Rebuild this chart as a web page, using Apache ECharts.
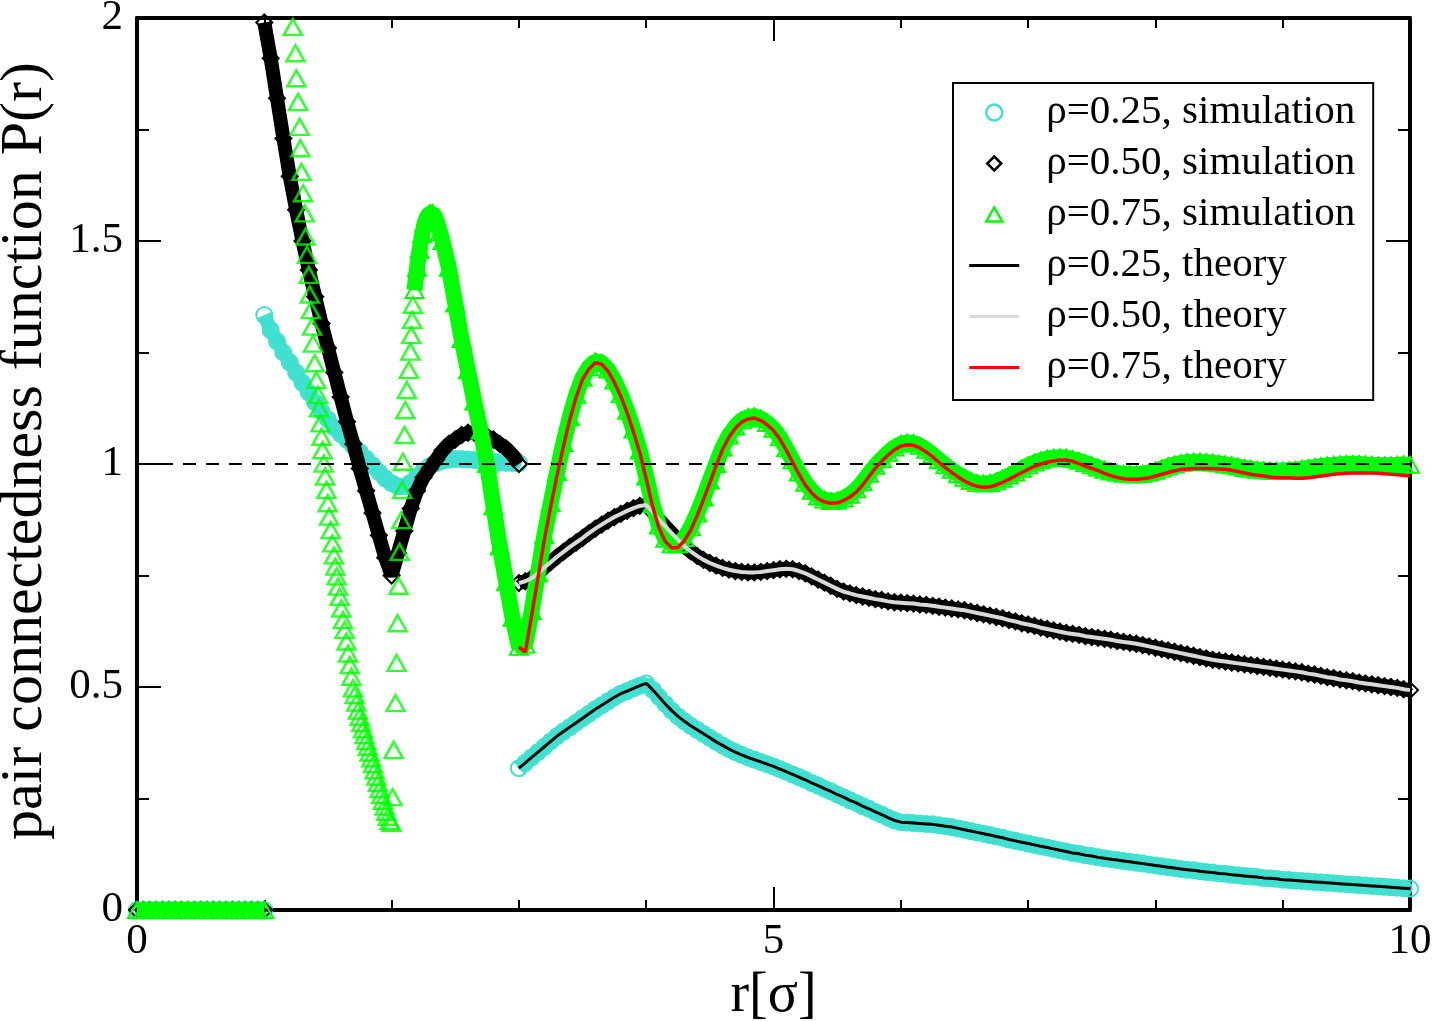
<!DOCTYPE html>
<html lang="en">
<head>
<meta charset="UTF-8">
<title>pair connectedness function</title>
<script src="https://cdn.jsdelivr.net/npm/echarts@6.0.0/dist/echarts.min.js"></script>
<style>
  html, body { margin: 0; padding: 0; background: #fff; }
  #main { width: 1438px; height: 1021px; }
</style>
</head>
<body>
<div id="main"></div>
<script>
// r in the core (r < 1): P(r) = 0 for all densities
var rCore = [0, 0.05, 0.1, 0.15, 0.2, 0.25, 0.3, 0.35, 0.4, 0.45, 0.5, 0.55, 0.6, 0.65, 0.7, 0.75, 0.8, 0.85, 0.9, 0.95, 1];
var pCore = [0, 0, 0, 0, 0, 0, 0, 0, 0, 0, 0, 0, 0, 0, 0, 0, 0, 0, 0, 0, 0];

// first shell 1 <= r <= 3
var rShell = [1, 1.05, 1.1, 1.15, 1.2, 1.25, 1.3, 1.35, 1.4, 1.45, 1.5, 1.55, 1.6, 1.65, 1.7, 1.75, 1.8, 1.85, 1.9, 1.95,
              2, 2.05, 2.1, 2.15, 2.2, 2.25, 2.3, 2.35, 2.4, 2.45, 2.5, 2.55, 2.6, 2.65, 2.7, 2.75, 2.8, 2.85, 2.9, 2.95, 3];
var simShell025 = [1.334, 1.3, 1.275, 1.25, 1.228, 1.205, 1.182, 1.16, 1.138, 1.118, 1.1, 1.082, 1.067, 1.054, 1.04, 1.027, 1.012, 0.997, 0.982, 0.968,
                   0.957, 0.95, 0.95, 0.958, 0.972, 0.985, 0.995, 1.002, 1.007, 1.01, 1.011, 1.011, 1.01, 1.009, 1.008, 1.006, 1.005, 1.004, 1.003, 1.002, 1.002];
var simShell050 = [1.99, 1.91, 1.82, 1.73, 1.645, 1.57, 1.5, 1.435, 1.375, 1.315, 1.26, 1.205, 1.15, 1.095, 1.045, 0.99, 0.94, 0.89, 0.84, 0.79,
                   0.75, 0.8, 0.85, 0.9, 0.94, 0.97, 0.99, 1.01, 1.03, 1.045, 1.055, 1.065, 1.07, 1.07, 1.068, 1.062, 1.055, 1.045, 1.035, 1.02, 1.0];

// rho = 0.75 simulation, steep drop before 2 sigma (single triangles)
var dropR075 = [1.224, 1.245, 1.252, 1.265, 1.278, 1.284, 1.292, 1.305, 1.318, 1.325, 1.336, 1.349, 1.357, 1.366, 1.375, 1.383, 1.396, 1.409, 1.422, 1.43,
                1.441, 1.449, 1.457, 1.467, 1.478, 1.488, 1.498, 1.509, 1.522, 1.535, 1.547, 1.558, 1.568, 1.579, 1.592, 1.605, 1.618, 1.631, 1.645, 1.658,
                1.671, 1.684, 1.697, 1.71, 1.723, 1.736, 1.749, 1.762, 1.775, 1.788, 1.801, 1.814, 1.827, 1.841, 1.854, 1.867, 1.88, 1.893, 1.906, 1.919,
                1.932, 1.945, 1.958, 1.971, 1.985, 1.998];
var dropP075 = [1.98, 1.921, 1.865, 1.812, 1.756, 1.708, 1.655, 1.607, 1.562, 1.51, 1.469, 1.424, 1.38, 1.345, 1.308, 1.27, 1.226, 1.188, 1.155, 1.125,
                1.091, 1.061, 1.031, 1.001, 0.972, 0.942, 0.912, 0.882, 0.852, 0.822, 0.795, 0.77, 0.748, 0.725, 0.702, 0.676, 0.65, 0.628, 0.602, 0.575,
                0.549, 0.523, 0.497, 0.482, 0.465, 0.447, 0.433, 0.419, 0.405, 0.392, 0.379, 0.366, 0.353, 0.34, 0.327, 0.313, 0.299, 0.285, 0.271, 0.258,
                0.245, 0.232, 0.22, 0.209, 0.2, 0.195];
// jump just after 2 sigma
var jumpR075 = [2.008, 2.016, 2.031, 2.039, 2.047, 2.055, 2.063, 2.076, 2.084, 2.089, 2.102, 2.108, 2.12, 2.136, 2.147, 2.154, 2.162, 2.167];
var jumpP075 = [0.253, 0.359, 0.464, 0.554, 0.643, 0.727, 0.803, 0.874, 0.942, 1.005, 1.065, 1.121, 1.166, 1.211, 1.252, 1.289, 1.323, 1.357];
// peak around 2.3 sigma
var peakR075 = [2.18, 2.2, 2.22, 2.24, 2.26, 2.28, 2.3, 2.32, 2.34, 2.36, 2.38, 2.4, 2.45, 2.5, 2.55, 2.6, 2.65, 2.7, 2.75, 2.8, 2.85, 2.9, 2.95];
var peakP075 = [1.39, 1.44, 1.48, 1.515, 1.54, 1.555, 1.562, 1.563, 1.555, 1.54, 1.52, 1.5, 1.44, 1.36, 1.28, 1.21, 1.14, 1.075, 1.0, 0.905, 0.815, 0.735, 0.655];

// r >= 3
var rOuter = [3, 3.05, 3.1, 3.15, 3.2, 3.25, 3.3, 3.35, 3.4, 3.45, 3.5, 3.55, 3.6, 3.65, 3.7, 3.75, 3.8, 3.85, 3.9, 3.95,
              4, 4.05, 4.1, 4.15, 4.2, 4.25, 4.3, 4.35, 4.4, 4.45, 4.5, 4.55, 4.6, 4.65, 4.7, 4.75, 4.8, 4.85, 4.9, 4.95,
              5, 5.05, 5.1, 5.15, 5.2, 5.25, 5.3, 5.35, 5.4, 5.45, 5.5, 5.55, 5.6, 5.65, 5.7, 5.75, 5.8, 5.85, 5.9, 5.95,
              6, 6.05, 6.1, 6.15, 6.2, 6.25, 6.3, 6.35, 6.4, 6.45, 6.5, 6.55, 6.6, 6.65, 6.7, 6.75, 6.8, 6.85, 6.9, 6.95,
              7, 7.05, 7.1, 7.15, 7.2, 7.25, 7.3, 7.35, 7.4, 7.45, 7.5, 7.55, 7.6, 7.65, 7.7, 7.75, 7.8, 7.85, 7.9, 7.95,
              8, 8.05, 8.1, 8.15, 8.2, 8.25, 8.3, 8.35, 8.4, 8.45, 8.5, 8.55, 8.6, 8.65, 8.7, 8.75, 8.8, 8.85, 8.9, 8.95,
              9, 9.05, 9.1, 9.15, 9.2, 9.25, 9.3, 9.35, 9.4, 9.45, 9.5, 9.55, 9.6, 9.65, 9.7, 9.75, 9.8, 9.85, 9.9, 9.95, 10];
var theory025 = [0.318, 0.33, 0.342, 0.354, 0.366, 0.378, 0.39, 0.4, 0.41, 0.42, 0.43, 0.44, 0.45, 0.459, 0.468, 0.477, 0.485, 0.491, 0.497, 0.503,
                 0.508, 0.494, 0.478, 0.462, 0.447, 0.434, 0.423, 0.413, 0.404, 0.395, 0.386, 0.377, 0.369, 0.361, 0.354, 0.348, 0.342, 0.337, 0.332, 0.327,
                 0.322, 0.316, 0.31, 0.304, 0.298, 0.292, 0.285, 0.279, 0.272, 0.266, 0.259, 0.253, 0.246, 0.24, 0.233, 0.227, 0.22, 0.214, 0.207, 0.201,
                 0.197, 0.196, 0.195, 0.194, 0.193, 0.192, 0.19, 0.188, 0.186, 0.183, 0.18, 0.177, 0.174, 0.171, 0.168, 0.165, 0.162, 0.158, 0.155, 0.152,
                 0.149, 0.146, 0.143, 0.14, 0.137, 0.134, 0.131, 0.128, 0.126, 0.123, 0.121, 0.118, 0.116, 0.114, 0.112, 0.11, 0.108, 0.106, 0.104, 0.102,
                 0.1, 0.098, 0.096, 0.094, 0.092, 0.09, 0.089, 0.087, 0.085, 0.084, 0.082, 0.081, 0.079, 0.078, 0.076, 0.075, 0.074, 0.072, 0.071, 0.07,
                 0.068, 0.067, 0.066, 0.065, 0.064, 0.063, 0.062, 0.061, 0.06, 0.059, 0.058, 0.057, 0.056, 0.055, 0.054, 0.053, 0.052, 0.051, 0.05, 0.049, 0.048];
var theory050 = [0.733, 0.737, 0.744, 0.755, 0.768, 0.78, 0.792, 0.803, 0.814, 0.824, 0.834, 0.845, 0.855, 0.864, 0.873, 0.881, 0.888, 0.895, 0.901, 0.906,
                 0.908, 0.893, 0.875, 0.86, 0.845, 0.83, 0.816, 0.804, 0.794, 0.785, 0.778, 0.772, 0.767, 0.763, 0.76, 0.758, 0.757, 0.757, 0.758, 0.76,
                 0.762, 0.764, 0.765, 0.764, 0.76, 0.755, 0.748, 0.741, 0.734, 0.727, 0.72, 0.714, 0.71, 0.706, 0.703, 0.7, 0.697, 0.695, 0.692, 0.69,
                 0.689, 0.688, 0.687, 0.685, 0.684, 0.682, 0.68, 0.678, 0.676, 0.674, 0.672, 0.669, 0.666, 0.663, 0.66, 0.657, 0.654, 0.65, 0.647, 0.643,
                 0.64, 0.637, 0.633, 0.63, 0.627, 0.624, 0.621, 0.619, 0.617, 0.614, 0.612, 0.61, 0.608, 0.606, 0.603, 0.601, 0.599, 0.597, 0.594, 0.591,
                 0.588, 0.585, 0.582, 0.579, 0.576, 0.573, 0.57, 0.567, 0.564, 0.561, 0.559, 0.557, 0.555, 0.553, 0.551, 0.549, 0.547, 0.545, 0.543, 0.541,
                 0.539, 0.537, 0.535, 0.533, 0.53, 0.528, 0.525, 0.522, 0.52, 0.517, 0.515, 0.513, 0.51, 0.508, 0.506, 0.504, 0.502, 0.5, 0.498, 0.495, 0.493];
var theory075 = [0.59, 0.578, 0.66, 0.745, 0.83, 0.905, 0.975, 1.04, 1.1, 1.15, 1.19, 1.213, 1.227, 1.224, 1.208, 1.183, 1.152, 1.115, 1.072, 1.025,
                 0.967, 0.905, 0.857, 0.826, 0.812, 0.813, 0.828, 0.852, 0.884, 0.92, 0.958, 0.997, 1.033, 1.06, 1.08, 1.094, 1.101, 1.103, 1.098, 1.088,
                 1.075, 1.056, 1.031, 1.004, 0.977, 0.953, 0.935, 0.922, 0.915, 0.912, 0.913, 0.918, 0.926, 0.937, 0.953, 0.972, 0.99, 1.006, 1.02, 1.032,
                 1.04, 1.043, 1.042, 1.036, 1.027, 1.016, 1.004, 0.992, 0.981, 0.971, 0.962, 0.955, 0.95, 0.948, 0.949, 0.953, 0.959, 0.966, 0.973, 0.981,
                 0.988, 0.995, 1.0, 1.004, 1.007, 1.009, 1.009, 1.006, 1.001, 0.995, 0.99, 0.985, 0.979, 0.974, 0.97, 0.967, 0.966, 0.966, 0.967, 0.969,
                 0.973, 0.977, 0.981, 0.985, 0.988, 0.989, 0.99, 0.99, 0.99, 0.99, 0.989, 0.988, 0.986, 0.983, 0.98, 0.977, 0.975, 0.973, 0.971, 0.97,
                 0.969, 0.969, 0.968, 0.968, 0.969, 0.971, 0.973, 0.975, 0.977, 0.978, 0.979, 0.98, 0.98, 0.98, 0.98, 0.979, 0.978, 0.977, 0.976, 0.975, 0.973];
var simOuter075 = [0.59, 0.595, 0.67, 0.755, 0.84, 0.912, 0.982, 1.047, 1.105, 1.155, 1.193, 1.217, 1.23, 1.227, 1.212, 1.187, 1.156, 1.119, 1.077, 1.03,
                   0.972, 0.91, 0.862, 0.832, 0.82, 0.82, 0.834, 0.858, 0.889, 0.925, 0.963, 1.0, 1.037, 1.064, 1.084, 1.098, 1.105, 1.107, 1.102, 1.092,
                   1.079, 1.06, 1.035, 1.008, 0.981, 0.958, 0.94, 0.927, 0.92, 0.917, 0.918, 0.923, 0.931, 0.943, 0.959, 0.978, 0.996, 1.011, 1.025, 1.037,
                   1.045, 1.048, 1.047, 1.041, 1.032, 1.021, 1.009, 0.997, 0.987, 0.977, 0.969, 0.962, 0.957, 0.956, 0.957, 0.961, 0.967, 0.974, 0.981, 0.989,
                   0.997, 1.003, 1.008, 1.012, 1.014, 1.015, 1.014, 1.011, 1.007, 1.002, 0.997, 0.992, 0.987, 0.983, 0.98, 0.978, 0.977, 0.977, 0.978, 0.981,
                   0.985, 0.99, 0.995, 0.999, 1.002, 1.004, 1.005, 1.005, 1.004, 1.003, 1.001, 0.999, 0.997, 0.994, 0.991, 0.989, 0.987, 0.986, 0.985, 0.985,
                   0.985, 0.986, 0.987, 0.989, 0.991, 0.993, 0.995, 0.997, 0.998, 0.999, 1.0, 1.0, 1.0, 0.999, 0.998, 0.997, 0.997, 0.997, 0.998, 0.999, 0.998];

// reference line P = 1
var refR = [0, 10];
var refP = [1, 1];

var NAME_S025 = 'ρ=0.25, simulation';
var NAME_S050 = 'ρ=0.50, simulation';
var NAME_S075 = 'ρ=0.75, simulation';
var NAME_T025 = 'ρ=0.25, theory';
var NAME_T050 = 'ρ=0.50, theory';
var NAME_T075 = 'ρ=0.75, theory';

var CYAN = '#40e0d0';
var GREEN = '#00ff00';
var GREY = '#d9d9d9';
var RED = '#ff0000';
var FONT = '"Liberation Serif", "Times New Roman", serif';
// legend icons are drawn in a 50x16 box; the tiny corner strokes pin the box so shapes are not stretched
var LINE_ICON = 'path://M0,0 L50,0 L50,3 L0,3 Z';
var DIAMOND_ICON = 'path://M0,0 L0.01,0 M50,16 L49.99,16 M25,1 L32,8 L25,15 L18,8 Z';
var TRIANGLE_ICON = 'path://M0,0 L0.01,0 M50,16 L49.99,16 M25,1 L33,15 L17,15 Z';

function pairs(xs, ys) {
    return xs.map(function (x, i) { return [x, ys[i]]; });
}

// dense simulation points drawn as a thick band with the marker on top
function simBand(name, data, color, symbol, size, width, z) {
    return {
        type: 'line', name: name, data: data, clip: false, silent: true, z: z,
        symbol: symbol, symbolSize: size, showSymbol: true,
        itemStyle: { color: 'rgba(0,0,0,0)', borderColor: color, borderWidth: 2 },
        lineStyle: { color: color, width: width },
        emphasis: { disabled: true }
    };
}

function simPoints(name, data, color, symbol, size, z) {
    return {
        type: 'scatter', name: name, data: data, clip: false, silent: true, z: z,
        symbol: symbol, symbolSize: size,
        itemStyle: { color: 'rgba(0,0,0,0)', borderColor: color, borderWidth: 2.5 },
        emphasis: { disabled: true }
    };
}

function theoryLine(name, data, color, width, z) {
    return {
        type: 'line', name: name, data: data, silent: true, z: z,
        symbol: 'none', showSymbol: false,
        itemStyle: { color: color },
        lineStyle: { color: color, width: width },
        emphasis: { disabled: true }
    };
}

function makeX(pos, withLabel) {
    return {
        type: 'value', min: 0, max: 10, interval: 5, position: pos,
        axisLine: { show: true, onZero: false, lineStyle: { color: '#000', width: 4 } },
        axisTick: { show: true, inside: true, length: 23, lineStyle: { color: '#000', width: 2 } },
        minorTick: { show: true, splitNumber: 5, length: 10, lineStyle: { color: '#000', width: 2 } },
        splitLine: { show: false },
        axisLabel: { show: withLabel, fontFamily: FONT, fontSize: 43, color: '#000', margin: 10 },
        name: withLabel ? 'r[σ]' : '', nameLocation: 'middle', nameGap: 52,
        nameTextStyle: { fontFamily: FONT, fontSize: 56, color: '#000' }
    };
}

function makeY(pos, withLabel) {
    return {
        type: 'value', min: 0, max: 2, interval: 0.5, position: pos,
        axisLine: { show: true, onZero: false, lineStyle: { color: '#000', width: 4 } },
        axisTick: { show: true, inside: true, length: 24, lineStyle: { color: '#000', width: 2 } },
        minorTick: { show: true, splitNumber: 2, length: 12, lineStyle: { color: '#000', width: 2 } },
        splitLine: { show: false },
        axisLabel: { show: withLabel, fontFamily: FONT, fontSize: 43, color: '#000', margin: 14 },
        name: withLabel ? 'pair connectedness function P(r)' : '', nameLocation: 'middle', nameGap: 82,
        nameTextStyle: { fontFamily: FONT, fontSize: 60, color: '#000', padding: [0, 0, 0, 26] }
    };
}

var option = {
    animation: false,
    backgroundColor: '#fff',
    grid: { left: 137, right: 28, top: 18, bottom: 111, containLabel: false, outerBoundsMode: 'none' },
    xAxis: [makeX('bottom', true), makeX('top', false)],
    yAxis: [makeY('left', true), makeY('right', false)],
    legend: {
        orient: 'vertical', left: 953, top: 83,
        padding: [9, 18, 12, 15],
        itemWidth: 50, itemHeight: 16, itemGap: 10,
        borderColor: '#000', borderWidth: 2, backgroundColor: '#fff',
        selectedMode: false,
        textStyle: { fontFamily: FONT, fontSize: 41, color: '#000', lineHeight: 40, padding: [0, 0, 0, 22] },
        data: [
            { name: NAME_S025, icon: 'circle', itemStyle: { color: 'rgba(0,0,0,0)', borderColor: CYAN, borderWidth: 2.5 } },
            { name: NAME_S050, icon: DIAMOND_ICON, itemStyle: { color: 'rgba(0,0,0,0)', borderColor: '#000', borderWidth: 2.5 } },
            { name: NAME_S075, icon: TRIANGLE_ICON, itemStyle: { color: 'rgba(0,0,0,0)', borderColor: GREEN, borderWidth: 2.5 } },
            { name: NAME_T025, icon: LINE_ICON, itemStyle: { color: '#000', borderWidth: 0 } },
            { name: NAME_T050, icon: LINE_ICON, itemStyle: { color: GREY, borderWidth: 0 } },
            { name: NAME_T075, icon: LINE_ICON, itemStyle: { color: RED, borderWidth: 0 } }
        ]
    },
    series: [
        // rho = 0.25 simulation
        simBand(NAME_S025, pairs(rCore, pCore), CYAN, 'circle', 16, 14, 2),
        simBand(NAME_S025, pairs(rShell, simShell025), CYAN, 'circle', 16, 14, 2),
        simBand(NAME_S025, pairs(rOuter, theory025), CYAN, 'circle', 16, 14, 2),
        // rho = 0.50 simulation
        simBand(NAME_S050, pairs(rCore, pCore), '#000', 'diamond', 16, 14, 3),
        simBand(NAME_S050, pairs(rShell, simShell050), '#000', 'diamond', 16, 14, 3),
        simBand(NAME_S050, pairs(rOuter, theory050), '#000', 'diamond', 16, 14, 3),
        // rho = 0.75 simulation
        simBand(NAME_S075, pairs(rCore, pCore), GREEN, 'triangle', [18, 16], 16, 4),
        simPoints(NAME_S075, pairs(dropR075, dropP075), GREEN, 'triangle', [18, 16], 4),
        simPoints(NAME_S075, pairs(jumpR075, jumpP075), GREEN, 'triangle', [18, 16], 4),
        simBand(NAME_S075, pairs(peakR075, peakP075).concat(pairs(rOuter, simOuter075)), GREEN, 'triangle', [18, 16], 16, 4),
        // P = 1
        {
            type: 'line', data: pairs(refR, refP), silent: true, symbol: 'none', z: 5,
            lineStyle: { color: '#000', width: 2, type: [13, 10] }
        },
        // theory curves
        theoryLine(NAME_T025, pairs(rOuter, theory025), '#000', 3, 6),
        theoryLine(NAME_T050, pairs(rOuter, theory050), GREY, 4, 7),
        theoryLine(NAME_T075, pairs(rOuter, theory075), RED, 3.5, 8)
    ]
};

var myChart = echarts.init(document.getElementById('main'));
myChart.setOption(option);
</script>
</body>
</html>
